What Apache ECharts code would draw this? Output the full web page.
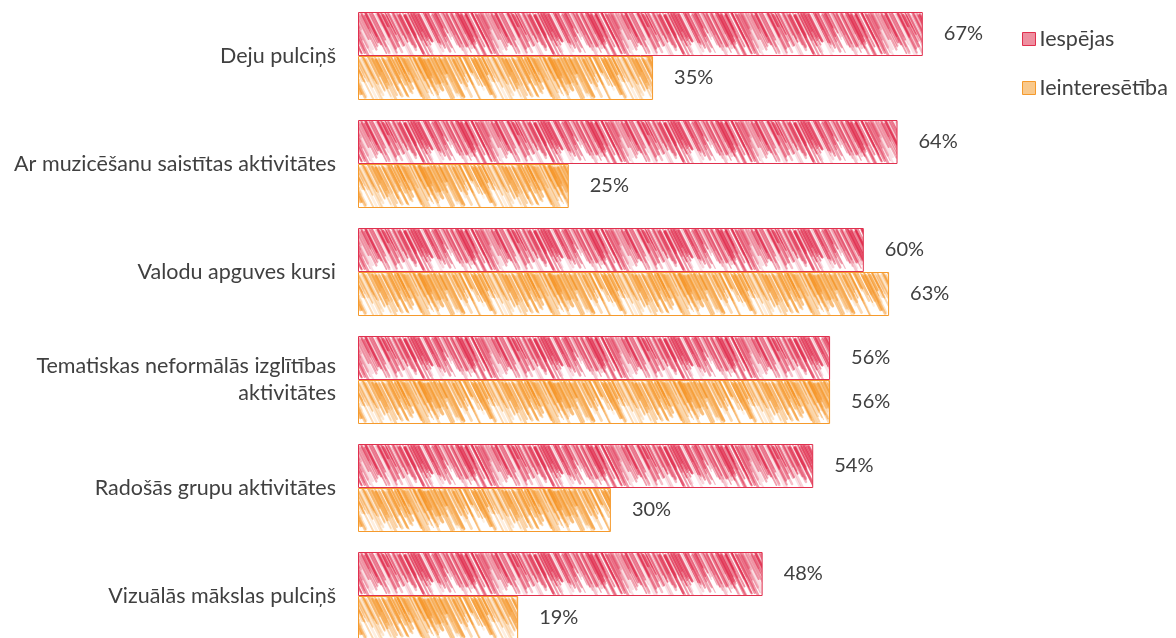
<!DOCTYPE html>
<html><head><meta charset="utf-8">
<script src="https://cdn.jsdelivr.net/npm/echarts@6/dist/echarts.min.js"></script>
<style>html,body{margin:0;padding:0;overflow:hidden;background:#fff}#c{width:1176px;height:660px}</style>
</head><body><div id="c"></div>
<script>
const categories = ["Deju pulciņš","Ar muzicēšanu saistītas aktivitātes","Valodu apguves kursi","Tematiskas neformālās izglītības\naktivitātes","Radošās grupu aktivitātes","Vizuālās mākslas pulciņš"];
const iespejas = [67,64,60,56,54,48];
const ieinteresetiba = [35,25,63,56,30,19];
const seriesNames = ["Iespējas","Ieinteresētība"];

function hash(n){ const s=Math.sin(n*12.9898+78.233)*43758.5453; return s-Math.floor(s); }
function makeTile(rgb, y0, h, seed){
  const W=130,H=108;
  const c=document.createElement('canvas'); c.width=W; c.height=H;
  const g=c.getContext('2d');
  g.fillStyle='#fff'; g.fillRect(0,0,W,H);
  g.save(); g.beginPath(); g.rect(0,y0,W,h); g.clip();
  g.lineCap='round';
  const N=170;
  for(let i=0;i<N;i++){
    const r1=hash(seed+i), r2=hash(seed+i*3.1+7), r3=hash(seed+i*5.3+11), r4=hash(seed+i*7.7+3);
    const x=(i/N)*W + r1*5 + 98;
    const top = y0 - 2 + r2*h*0.15;
    const len = h*(0.3+0.7*r3);
    const dx = len*0.5;
    g.strokeStyle='rgba('+rgb+','+(0.12+0.42*r4)+')';
    g.lineWidth=1+2*r2;
    for(const off of [-2*W,-W,0,W]){
      g.beginPath(); g.moveTo(x+off, top); g.lineTo(x+off+dx, top+len); g.stroke();
    }
  }
  g.restore();
  return c;
}
const tileRed = makeTile('222,30,65', 12, 44, 1);
const tileOrange = makeTile('245,145,30', 56, 44, 50);

const chart = echarts.init(document.getElementById('c'), null, {renderer:'canvas'});
const font = 'Lato';
const lbl = {show:true, position:'right', distance:21, formatter:'{c}%', color:'#404040', fontFamily:font, fontSize:20};
chart.setOption({
  animation:false,
  backgroundColor:'#fff',
  legend:{orient:'vertical', left:1022, top:28, padding:0, icon:'rect', itemWidth:13, itemHeight:13, itemGap:27,
    textStyle:{color:'#404040', fontFamily:font, fontSize:21.5, lineHeight:20, padding:[0,0,0,-1]},
    data:[{name:seriesNames[0], itemStyle:{color:'#ee8fa0', borderColor:'#e0304e', borderWidth:1}},
          {name:seriesNames[1], itemStyle:{color:'#f9c98c', borderColor:'#f59a2c', borderWidth:1}}]},
  grid:{left:358, top:2, height:648, width:674.4, containLabel:false, outerBoundsMode:'none'},
  xAxis:{type:'value', min:0, max:80, show:false},
  yAxis:{type:'category', data:categories, inverse:true,
    axisLine:{show:false}, axisTick:{show:false}, splitLine:{show:false},
    axisLabel:{color:'#404040', fontFamily:font, fontSize:21.5, margin:22, lineHeight:27, align:'right'}},
  series:[
    {type:'bar', name:seriesNames[0], data:iespejas, barWidth:44, barGap:'0%',
      itemStyle:{color:{image:tileRed, repeat:'repeat'}, borderColor:'#e0304e', borderWidth:1}, label:lbl},
    {type:'bar', name:seriesNames[1], data:ieinteresetiba, barWidth:44, barGap:'0%',
      itemStyle:{color:{image:tileOrange, repeat:'repeat'}, borderColor:'#f59a2c', borderWidth:1}, label:lbl}
  ]
});
</script></body></html>
